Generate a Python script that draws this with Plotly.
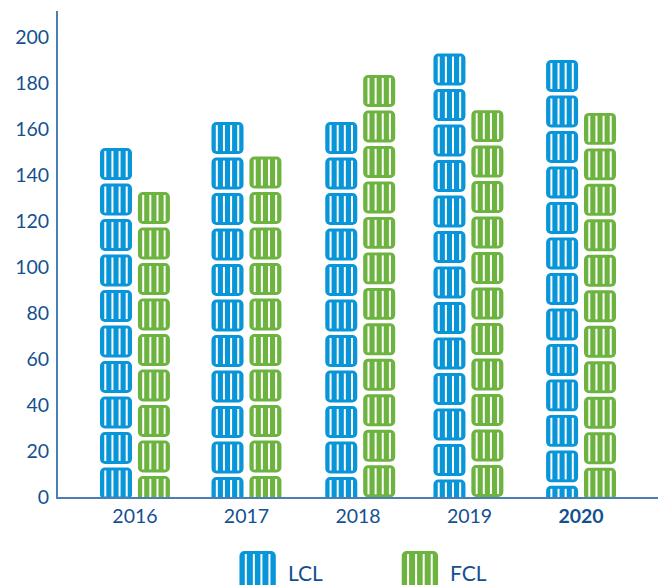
import plotly.graph_objects as go

years = ["2016", "2017", "2018", "2019", "<b>2020</b>"]
lcl = [151.7, 163, 163, 192.8, 190]
fcl = [132.6, 148, 183.5, 168.2, 167]
group_x = [0, 1, 2.02, 2.99, 4]
key_names = ["LCL", "FCL"]

BLUE = "#0996d8"
GREEN = "#6db33f"
INK = "#14508f"
AXIS = "#4a7fb5"

UNIT = 15.43       # one container stands for this many units
BLOCK_H = 13.9     # drawn height of a container
BLOCK_W = 0.287    # drawn width of a container, in category units
OFFSET = 0.17
STRIPE_DX = [-0.096, -0.032, 0.032, 0.096]
INSET = 1.3
X_RANGE = [-0.69, 4.69]


def stack_bases(value):
    """Bases of the containers, stacked down from the top of the value."""
    bases = []
    top = value
    while top > 0:
        bases.append(top - BLOCK_H)
        top -= UNIT
    return bases


def container_traces(positions, values, color):
    xs, bases, sx, sy = [], [], [], []
    for pos, val in zip(positions, values):
        for b in stack_bases(val):
            xs.append(pos)
            bases.append(b)
            for d in STRIPE_DX:
                sx += [pos + d, pos + d, None]
                sy += [b + INSET, b + BLOCK_H - INSET, None]
    bars = go.Bar(
        x=xs, y=[BLOCK_H] * len(xs), base=bases, width=BLOCK_W,
        marker=dict(color=color, cornerradius=5, line=dict(width=0)),
        showlegend=False, hoverinfo="skip",
    )
    stripes = go.Scatter(
        x=sx, y=sy, mode="lines", line=dict(color="white", width=2),
        showlegend=False, hoverinfo="skip",
    )
    return [bars, stripes]


def key_traces(x, color):
    """Oversized container for the key, on its own axes under the chart."""
    bars = go.Bar(
        x=[x], y=[1.3], base=[-0.3], width=0.326, xaxis="x2", yaxis="y2",
        marker=dict(color=color, cornerradius=5, line=dict(width=0)),
        showlegend=False, hoverinfo="skip",
    )
    sx, sy = [], []
    for d in [-0.106, -0.034, 0.034, 0.106]:
        sx += [x + d, x + d, None]
        sy += [-0.3, 0.91, None]
    stripes = go.Scatter(
        x=sx, y=sy, mode="lines", line=dict(color="white", width=2),
        xaxis="x2", yaxis="y2", showlegend=False, hoverinfo="skip",
    )
    return [bars, stripes]


fig = go.Figure()
fig.add_traces(container_traces([i - OFFSET for i in group_x], lcl, BLUE))
fig.add_traces(container_traces([i + OFFSET for i in group_x], fcl, GREEN))
fig.add_traces(key_traces(1.10, BLUE))
fig.add_traces(key_traces(2.555, GREEN))

for x, name in zip([1.35, 2.81], key_names):
    fig.add_annotation(
        x=x, y=0.38, xref="x2", yref="y2", text=name, showarrow=False,
        xanchor="left", yanchor="middle",
        font=dict(family="Lato", size=21, color=INK),
    )

fig.update_layout(
    width=663, height=585, autosize=False, barmode="overlay",
    margin=dict(l=58, r=5, t=11, b=0, pad=0),
    paper_bgcolor="white", plot_bgcolor="white",
    font=dict(family="Lato", size=19.5, color=INK),
    xaxis=dict(
        range=X_RANGE, tickmode="array", tickvals=list(range(len(years))), ticktext=years,
        showgrid=False, zeroline=False, showline=True, linecolor=AXIS, linewidth=2,
        ticks="", ticklabelstandoff=1, anchor="y", automargin=False,
    ),
    yaxis=dict(
        domain=[88 / 574, 1], range=[0, 211.3], tickmode="array",
        tickvals=list(range(0, 201, 20)),
        showgrid=False, zeroline=False, showline=True, linecolor=AXIS, linewidth=2,
        ticks="", ticklabelstandoff=3, automargin=False,
    ),
    xaxis2=dict(range=X_RANGE, visible=False, anchor="y2", automargin=False),
    yaxis2=dict(domain=[0, 34 / 574], range=[0, 1], visible=False, anchor="x2", automargin=False),
)

fig.write_html("out.html", config={"displayModeBar": False})
